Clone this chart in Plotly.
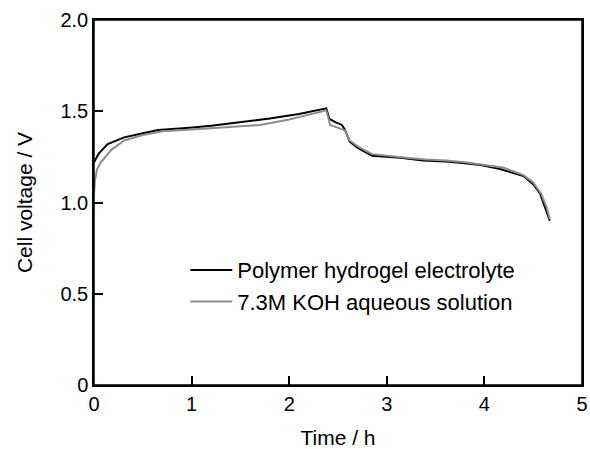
import plotly.graph_objects as go

# Polymer hydrogel electrolyte (black)
t_poly = [0.0, 0.05, 0.14, 0.31, 0.5, 0.66, 0.98, 1.2, 1.49, 1.8, 2.1, 2.38, 2.41, 2.47, 2.54, 2.57, 2.62, 2.71, 2.85, 3.0, 3.14, 3.37, 3.6, 3.8, 3.96, 4.15, 4.4, 4.5, 4.57, 4.63, 4.67]
v_poly = [1.22, 1.27, 1.32, 1.357, 1.38, 1.397, 1.41, 1.42, 1.44, 1.46, 1.485, 1.516, 1.46, 1.44, 1.425, 1.40, 1.333, 1.297, 1.256, 1.25, 1.245, 1.23, 1.225, 1.215, 1.205, 1.185, 1.145, 1.10, 1.05, 0.96, 0.90]

# 7.3M KOH aqueous solution (gray)
t_koh = [0.0, 0.01, 0.03, 0.07, 0.18, 0.31, 0.5, 0.7, 1.0, 1.3, 1.7, 2.0, 2.2, 2.38, 2.42, 2.5, 2.57, 2.62, 2.71, 2.85, 3.0, 3.2, 3.4, 3.6, 3.8, 4.0, 4.2, 4.4, 4.5, 4.58, 4.64, 4.67]
v_koh = [1.05, 1.12, 1.18, 1.22, 1.29, 1.34, 1.37, 1.39, 1.40, 1.41, 1.425, 1.455, 1.48, 1.505, 1.425, 1.41, 1.395, 1.34, 1.305, 1.265, 1.255, 1.245, 1.235, 1.23, 1.22, 1.205, 1.19, 1.15, 1.11, 1.05, 0.97, 0.91]

x_ticks = [0, 1, 2, 3, 4, 5]
y_ticks = [0, 0.5, 1.0, 1.5, 2.0]
y_ticklabels = ["0", "0.5", "1.0", "1.5", "2.0"]

fig = go.Figure()
fig.add_trace(go.Scatter(x=t_poly, y=v_poly, mode="lines", name="Polymer hydrogel electrolyte",
                         line=dict(color="black", width=2)))
fig.add_trace(go.Scatter(x=t_koh, y=v_koh, mode="lines", name="7.3M KOH aqueous solution",
                         line=dict(color="#8c8c8c", width=2)))

font = dict(family="Liberation Sans, Arial, sans-serif", size=20, color="black")
fig.update_layout(
    width=590, height=449,
    margin=dict(l=94, r=8, t=20, b=64),
    paper_bgcolor="white", plot_bgcolor="white",
    font=font,
    showlegend=True,
    legend=dict(x=0.187, y=0.271, xanchor="left", yanchor="middle",
                bgcolor="rgba(0,0,0,0)", font=dict(size=22), tracegroupgap=0,
                itemwidth=42),
    shapes=[dict(type="rect", xref="paper", yref="paper", x0=0, x1=1, y0=0, y1=1,
                 line=dict(color="black", width=1.5), fillcolor="rgba(0,0,0,0)", layer="above")],
)
fig.update_xaxes(range=[0, 5], tickvals=x_ticks, ticks="inside", ticklen=9, tickwidth=1.5,
                 tickcolor="black", showline=True, linecolor="black", linewidth=1.5, mirror=True,
                 showgrid=False, zeroline=False, automargin=False,
                 title=dict(text="Time / h", font=dict(size=21), standoff=23),
                 tickfont=dict(size=20))
fig.update_yaxes(range=[0, 2.0], tickvals=y_ticks, ticktext=y_ticklabels, ticks="inside", ticklen=9,
                 tickwidth=1.5, tickcolor="black", showline=True, linecolor="black", linewidth=1.5,
                 mirror=True, showgrid=False, zeroline=False, automargin=False,
                 title=dict(text="Cell voltage / V", font=dict(size=21), standoff=22),
                 tickfont=dict(size=20))

fig.write_html("out.html", config={"displayModeBar": False},
               post_script="document.body.style.margin='0';document.body.style.overflow='hidden';")
